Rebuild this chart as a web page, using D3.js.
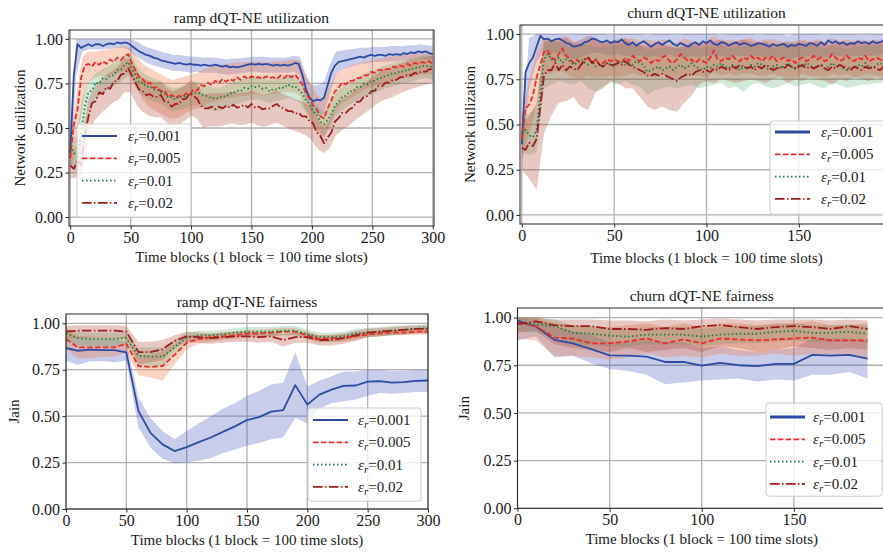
<!DOCTYPE html>
<html>
<head>
<meta charset="utf-8">
<script src="https://cdn.jsdelivr.net/npm/d3@7"></script>
<style>
  body { margin: 0; background: #fff; }
  svg { display: block; }
</style>
</head>
<body>
<svg id="fig"></svg>
<script>
// ---- data -------------------------------------------------------------
const keys = ["0.001", "0.005", "0.01", "0.02"];

// ramp utilization: lines every 3 blocks, bands every 5 blocks
const rampT = d3.range(0, 301, 3);
const rampBandT = d3.range(0, 301, 5);

const rampU001 = [0.36,0.80,0.97,0.95,0.96,0.97,0.96,0.97,0.97,0.96,
  0.97,0.975,0.97,0.98,0.975,0.98,0.975,0.96,0.945,0.93,
  0.92,0.91,0.905,0.895,0.89,0.88,0.875,0.87,0.865,0.86,
  0.865,0.86,0.855,0.86,0.855,0.855,0.85,0.855,0.85,0.85,
  0.855,0.85,0.845,0.85,0.84,0.845,0.84,0.845,0.85,0.855,
  0.86,0.855,0.86,0.855,0.86,0.855,0.85,0.855,0.85,0.855,
  0.85,0.855,0.865,0.86,0.80,0.72,0.67,0.65,0.66,0.655,
  0.67,0.74,0.81,0.85,0.87,0.875,0.88,0.885,0.89,0.895,
  0.90,0.895,0.905,0.91,0.905,0.91,0.91,0.905,0.915,0.91,
  0.915,0.91,0.92,0.915,0.925,0.92,0.93,0.925,0.93,0.92,
  0.915];
const rampU005 = [0.33,0.52,0.60,0.78,0.85,0.86,0.845,0.87,0.855,0.875,
  0.86,0.885,0.87,0.895,0.88,0.905,0.915,0.865,0.825,0.785,
  0.775,0.745,0.755,0.725,0.73,0.705,0.71,0.675,0.685,0.67,
  0.68,0.675,0.695,0.69,0.715,0.71,0.74,0.735,0.755,0.74,
  0.765,0.75,0.775,0.76,0.775,0.765,0.785,0.77,0.79,0.775,
  0.79,0.78,0.785,0.775,0.79,0.78,0.785,0.775,0.795,0.78,
  0.80,0.785,0.80,0.775,0.745,0.695,0.665,0.625,0.605,0.565,
  0.555,0.61,0.655,0.705,0.725,0.755,0.745,0.765,0.765,0.78,
  0.78,0.795,0.795,0.815,0.81,0.825,0.825,0.83,0.83,0.845,
  0.84,0.85,0.845,0.86,0.85,0.865,0.86,0.87,0.865,0.875,
  0.86];
const rampU01 = [0.40,0.36,0.34,0.46,0.62,0.70,0.71,0.755,0.75,0.78,
  0.775,0.795,0.795,0.825,0.825,0.855,0.87,0.835,0.795,0.755,
  0.755,0.73,0.735,0.715,0.715,0.70,0.695,0.67,0.675,0.66,
  0.675,0.67,0.685,0.685,0.70,0.695,0.695,0.68,0.68,0.665,
  0.67,0.665,0.68,0.675,0.695,0.695,0.71,0.705,0.725,0.72,
  0.735,0.73,0.735,0.72,0.725,0.705,0.72,0.715,0.73,0.725,
  0.745,0.73,0.735,0.715,0.695,0.655,0.635,0.595,0.575,0.535,
  0.52,0.545,0.575,0.625,0.645,0.675,0.68,0.705,0.705,0.73,
  0.73,0.75,0.745,0.765,0.765,0.78,0.78,0.795,0.795,0.81,
  0.805,0.82,0.815,0.83,0.825,0.84,0.835,0.85,0.845,0.85,
  0.84];
const rampU02 = [0.29,0.27,0.32,0.29,0.46,0.56,0.64,0.65,0.70,0.69,
  0.73,0.72,0.76,0.765,0.80,0.805,0.835,0.795,0.755,0.715,
  0.705,0.685,0.69,0.675,0.675,0.685,0.65,0.645,0.62,0.635,
  0.635,0.66,0.665,0.695,0.68,0.665,0.625,0.61,0.61,0.62,
  0.605,0.62,0.61,0.625,0.615,0.63,0.615,0.62,0.63,0.615,
  0.635,0.615,0.62,0.605,0.61,0.61,0.625,0.635,0.615,0.61,
  0.595,0.595,0.58,0.585,0.565,0.565,0.54,0.525,0.475,0.455,
  0.415,0.445,0.475,0.535,0.555,0.585,0.585,0.605,0.615,0.645,
  0.65,0.675,0.68,0.705,0.71,0.735,0.735,0.755,0.755,0.77,
  0.77,0.785,0.785,0.80,0.795,0.81,0.805,0.82,0.815,0.83,
  0.83];

const rampLo001 = [0.25,0.80,0.93,0.94,0.94,0.94,0.945,0.945,0.95,0.95,
  0.93,0.90,0.88,0.86,0.85,0.84,0.83,0.82,0.82,0.815,
  0.81,0.815,0.81,0.81,0.81,0.805,0.80,0.80,0.805,0.81,
  0.815,0.815,0.81,0.81,0.81,0.81,0.81,0.815,0.80,0.66,
  0.58,0.57,0.58,0.70,0.80,0.83,0.84,0.85,0.86,0.86,
  0.87,0.87,0.87,0.875,0.875,0.88,0.88,0.885,0.89,0.885,
  0.88];
const rampHi001 = [0.50,1.0,1.0,1.0,1.0,1.0,1.0,1.0,1.0,1.0,
  1.0,0.985,0.965,0.95,0.94,0.93,0.92,0.91,0.91,0.905,
  0.90,0.90,0.895,0.895,0.895,0.89,0.885,0.89,0.89,0.895,
  0.90,0.90,0.90,0.895,0.895,0.895,0.895,0.905,0.90,0.79,
  0.74,0.74,0.76,0.86,0.93,0.935,0.94,0.945,0.95,0.95,
  0.955,0.955,0.955,0.96,0.96,0.96,0.965,0.965,0.97,0.965,
  0.96];
const rampLo005 = [0.25,0.40,0.62,0.76,0.78,0.79,0.79,0.80,0.81,0.82,
  0.79,0.72,0.66,0.62,0.60,0.58,0.56,0.55,0.56,0.58,
  0.60,0.61,0.62,0.64,0.65,0.66,0.67,0.67,0.68,0.68,
  0.69,0.69,0.68,0.69,0.69,0.70,0.70,0.70,0.68,0.60,
  0.52,0.47,0.45,0.52,0.60,0.64,0.66,0.68,0.70,0.72,
  0.73,0.74,0.75,0.76,0.77,0.78,0.78,0.79,0.80,0.80,
  0.80];
const rampHi005 = [0.45,0.68,0.90,0.93,0.93,0.935,0.94,0.945,0.955,0.96,
  0.95,0.90,0.86,0.84,0.82,0.80,0.78,0.77,0.78,0.79,
  0.80,0.81,0.83,0.84,0.85,0.855,0.86,0.865,0.87,0.87,
  0.87,0.875,0.87,0.87,0.875,0.875,0.88,0.885,0.88,0.80,
  0.73,0.68,0.67,0.74,0.80,0.83,0.845,0.855,0.865,0.875,
  0.88,0.89,0.895,0.90,0.905,0.91,0.915,0.915,0.92,0.92,
  0.92];
const rampLo01 = [0.30,0.25,0.38,0.58,0.66,0.69,0.71,0.73,0.75,0.78,
  0.79,0.72,0.68,0.66,0.645,0.635,0.61,0.595,0.60,0.61,
  0.62,0.63,0.615,0.605,0.595,0.60,0.615,0.63,0.64,0.65,
  0.66,0.66,0.65,0.64,0.65,0.655,0.67,0.66,0.64,0.59,
  0.54,0.49,0.45,0.50,0.57,0.60,0.625,0.645,0.665,0.68,
  0.69,0.705,0.72,0.73,0.74,0.75,0.755,0.765,0.775,0.78,
  0.77];
const rampHi01 = [0.46,0.45,0.66,0.76,0.80,0.825,0.84,0.86,0.88,0.91,
  0.92,0.85,0.81,0.79,0.775,0.765,0.74,0.725,0.73,0.74,
  0.75,0.76,0.745,0.735,0.725,0.73,0.745,0.76,0.77,0.78,
  0.79,0.79,0.78,0.77,0.78,0.785,0.80,0.79,0.77,0.72,
  0.67,0.62,0.59,0.63,0.70,0.73,0.755,0.775,0.795,0.81,
  0.82,0.835,0.85,0.86,0.87,0.88,0.885,0.895,0.905,0.91,
  0.90];
const rampLo02 = [0.22,0.22,0.24,0.45,0.54,0.58,0.61,0.64,0.66,0.70,
  0.70,0.63,0.59,0.57,0.56,0.56,0.53,0.51,0.52,0.54,
  0.57,0.55,0.50,0.51,0.51,0.51,0.52,0.525,0.515,0.52,
  0.53,0.515,0.505,0.515,0.53,0.515,0.50,0.485,0.475,0.46,
  0.43,0.38,0.36,0.39,0.46,0.49,0.51,0.54,0.565,0.59,
  0.615,0.64,0.66,0.67,0.685,0.70,0.715,0.725,0.735,0.745,
  0.755];
const rampHi02 = [0.36,0.40,0.45,0.66,0.73,0.77,0.80,0.82,0.85,0.89,
  0.89,0.82,0.78,0.765,0.755,0.76,0.725,0.705,0.72,0.74,
  0.77,0.74,0.69,0.695,0.695,0.695,0.70,0.705,0.695,0.70,
  0.71,0.695,0.685,0.695,0.71,0.695,0.68,0.665,0.655,0.64,
  0.61,0.55,0.50,0.55,0.63,0.66,0.68,0.71,0.735,0.76,
  0.785,0.81,0.83,0.84,0.855,0.865,0.88,0.885,0.895,0.90,
  0.905];

// churn utilization: lines every 2 blocks, bands every 4 blocks
const churnT = d3.range(0, 200, 2);
const churnBandT = d3.range(0, 200, 4);

const churnU001 = [0.39,0.79,0.84,0.87,0.93,0.99,0.97,0.975,0.96,0.97,
  0.975,0.965,0.95,0.945,0.93,0.935,0.94,0.955,0.96,0.975,
  0.97,0.96,0.955,0.965,0.95,0.96,0.955,0.97,0.95,0.94,
  0.955,0.935,0.95,0.96,0.945,0.93,0.945,0.955,0.94,0.955,
  0.965,0.945,0.935,0.95,0.94,0.93,0.945,0.955,0.94,0.96,
  0.95,0.965,0.945,0.94,0.955,0.95,0.935,0.945,0.955,0.94,
  0.95,0.945,0.935,0.94,0.95,0.945,0.94,0.93,0.945,0.935,
  0.94,0.945,0.93,0.94,0.935,0.945,0.94,0.935,0.95,0.945,
  0.935,0.955,0.94,0.965,0.95,0.96,0.945,0.955,0.94,0.95,
  0.945,0.96,0.95,0.955,0.945,0.96,0.95,0.955,0.965,0.96];
const churnU005 = [0.42,0.59,0.61,0.66,0.76,0.83,0.90,0.91,0.87,0.86,
  0.89,0.92,0.88,0.86,0.84,0.86,0.83,0.85,0.87,0.84,
  0.86,0.83,0.84,0.86,0.85,0.86,0.85,0.84,0.87,0.85,
  0.88,0.86,0.85,0.87,0.86,0.84,0.86,0.85,0.87,0.88,
  0.85,0.84,0.86,0.89,0.87,0.85,0.86,0.84,0.86,0.85,
  0.84,0.87,0.91,0.86,0.85,0.87,0.86,0.88,0.86,0.85,
  0.87,0.86,0.88,0.86,0.87,0.85,0.87,0.86,0.88,0.85,
  0.86,0.87,0.85,0.86,0.84,0.86,0.87,0.85,0.86,0.88,
  0.86,0.87,0.85,0.86,0.89,0.87,0.85,0.86,0.88,0.86,
  0.85,0.87,0.86,0.88,0.85,0.86,0.87,0.86,0.85,0.86];
const churnU01 = [0.45,0.47,0.44,0.43,0.47,0.67,0.86,0.89,0.86,0.85,
  0.87,0.84,0.86,0.85,0.83,0.84,0.86,0.84,0.83,0.85,
  0.82,0.83,0.82,0.84,0.83,0.82,0.84,0.85,0.83,0.84,
  0.83,0.85,0.84,0.83,0.79,0.80,0.81,0.82,0.80,0.81,
  0.82,0.80,0.82,0.83,0.81,0.82,0.84,0.82,0.81,0.80,
  0.82,0.81,0.83,0.82,0.84,0.82,0.81,0.83,0.82,0.80,
  0.82,0.81,0.83,0.82,0.84,0.83,0.82,0.80,0.82,0.83,
  0.81,0.82,0.84,0.82,0.81,0.83,0.82,0.84,0.83,0.81,
  0.82,0.83,0.81,0.82,0.84,0.82,0.83,0.81,0.80,0.82,
  0.81,0.83,0.82,0.84,0.82,0.81,0.83,0.84,0.83,0.84];
const churnU02 = [0.37,0.36,0.40,0.38,0.42,0.60,0.77,0.80,0.80,0.84,
  0.80,0.83,0.80,0.82,0.81,0.80,0.83,0.86,0.87,0.84,
  0.86,0.83,0.82,0.84,0.83,0.83,0.84,0.83,0.85,0.83,
  0.82,0.81,0.80,0.79,0.77,0.77,0.78,0.77,0.78,0.77,
  0.76,0.75,0.74,0.76,0.77,0.78,0.77,0.79,0.80,0.79,
  0.80,0.79,0.81,0.80,0.82,0.81,0.80,0.82,0.81,0.83,
  0.82,0.81,0.82,0.80,0.82,0.81,0.83,0.82,0.80,0.81,
  0.82,0.81,0.83,0.82,0.81,0.82,0.83,0.81,0.82,0.81,
  0.82,0.83,0.81,0.80,0.82,0.81,0.83,0.82,0.81,0.80,
  0.82,0.81,0.80,0.82,0.81,0.82,0.81,0.80,0.82,0.81];

const churnLo001 = [0.30,0.70,0.85,0.90,0.89,0.90,0.87,0.86,0.87,0.89,
  0.90,0.89,0.88,0.89,0.88,0.88,0.88,0.87,0.88,0.87,
  0.89,0.87,0.87,0.88,0.87,0.88,0.88,0.88,0.87,0.88,
  0.88,0.87,0.88,0.87,0.87,0.87,0.86,0.87,0.87,0.88,
  0.87,0.87,0.88,0.88,0.87,0.88,0.88,0.88,0.88,0.89];
const churnHi001 = [0.50,0.98,1.0,1.0,1.0,1.0,0.995,1.0,1.0,1.0,
  1.0,1.0,0.995,1.0,1.0,1.0,1.0,0.995,1.0,1.0,
  1.0,0.995,1.0,1.0,1.0,1.0,1.0,0.995,1.0,1.0,
  1.0,1.0,0.995,1.0,1.0,1.0,0.99,1.0,1.0,1.0,
  1.0,0.995,1.0,1.0,1.0,1.0,0.995,1.0,1.0,1.0];
const churnLo005 = [0.30,0.45,0.60,0.78,0.78,0.80,0.78,0.76,0.75,0.77,
  0.76,0.76,0.77,0.76,0.77,0.78,0.77,0.77,0.76,0.78,
  0.76,0.76,0.78,0.77,0.77,0.76,0.79,0.77,0.78,0.77,
  0.78,0.78,0.77,0.77,0.78,0.77,0.76,0.76,0.78,0.77,
  0.77,0.76,0.78,0.77,0.78,0.76,0.77,0.78,0.77,0.77];
const churnHi005 = [0.55,0.75,0.90,0.98,0.97,0.98,0.99,0.96,0.95,0.97,
  0.96,0.95,0.96,0.95,0.97,0.98,0.96,0.97,0.96,0.97,
  0.96,0.95,0.98,0.96,0.95,0.96,0.99,0.96,0.97,0.96,
  0.97,0.98,0.96,0.97,0.97,0.96,0.95,0.96,0.97,0.96,
  0.97,0.96,0.98,0.96,0.97,0.96,0.97,0.96,0.97,0.96];
const churnLo01 = [0.35,0.33,0.35,0.70,0.72,0.74,0.73,0.72,0.74,0.70,
  0.68,0.71,0.73,0.72,0.74,0.72,0.71,0.66,0.69,0.70,
  0.71,0.70,0.71,0.72,0.70,0.71,0.72,0.73,0.70,0.71,
  0.68,0.72,0.73,0.71,0.70,0.71,0.73,0.71,0.72,0.73,
  0.71,0.70,0.73,0.72,0.70,0.71,0.72,0.72,0.73,0.73];
const churnHi01 = [0.55,0.56,0.60,0.95,0.96,0.95,0.94,0.93,0.95,0.94,
  0.93,0.93,0.94,0.94,0.95,0.94,0.94,0.91,0.92,0.92,
  0.93,0.93,0.92,0.94,0.92,0.93,0.93,0.94,0.92,0.93,
  0.93,0.94,0.94,0.93,0.92,0.93,0.94,0.93,0.93,0.94,
  0.93,0.92,0.94,0.93,0.92,0.93,0.93,0.94,0.94,0.94];
const churnLo02 = [0.25,0.20,0.14,0.45,0.55,0.62,0.63,0.65,0.60,0.58,
  0.68,0.70,0.74,0.73,0.70,0.70,0.65,0.60,0.58,0.60,
  0.58,0.57,0.62,0.66,0.72,0.74,0.73,0.75,0.74,0.73,
  0.74,0.75,0.74,0.73,0.75,0.76,0.73,0.75,0.74,0.76,
  0.75,0.74,0.72,0.75,0.74,0.76,0.75,0.74,0.76,0.75];
const churnHi02 = [0.50,0.55,0.62,0.96,0.97,0.96,0.98,0.95,0.97,0.99,
  0.98,0.95,0.96,0.97,0.98,0.95,0.94,0.93,0.94,0.95,
  0.93,0.92,0.94,0.95,0.94,0.95,0.96,0.97,0.95,0.96,
  0.97,0.96,0.95,0.96,0.94,0.95,0.96,0.95,0.96,0.95,
  0.96,0.95,0.94,0.96,0.95,0.96,0.95,0.96,0.95,0.95];

// ramp fairness, every 10 blocks
const fairRampT = d3.range(0, 301, 10);
const fairRamp001 = [0.867,0.852,0.858,0.856,0.856,0.843,0.528,0.41,0.348,0.312,0.333,0.36,0.385,0.415,0.445,0.479,0.495,0.524,0.532,0.667,0.562,0.616,0.643,0.663,0.665,0.686,0.688,0.68,0.683,0.69,0.692];
const fairRampLo001 = [0.80,0.775,0.795,0.795,0.79,0.80,0.44,0.33,0.27,0.245,0.25,0.26,0.275,0.30,0.32,0.34,0.355,0.375,0.385,0.49,0.46,0.54,0.57,0.58,0.59,0.61,0.625,0.62,0.625,0.63,0.63];
const fairRampHi001 = [0.93,0.92,0.915,0.915,0.915,0.90,0.60,0.49,0.42,0.375,0.42,0.46,0.50,0.54,0.57,0.61,0.635,0.67,0.68,0.845,0.66,0.69,0.715,0.74,0.74,0.75,0.75,0.745,0.745,0.75,0.75];
const fairRamp005 = [0.915,0.87,0.87,0.87,0.87,0.89,0.77,0.765,0.77,0.83,0.895,0.915,0.925,0.93,0.935,0.945,0.945,0.95,0.955,0.955,0.935,0.915,0.92,0.92,0.93,0.94,0.945,0.95,0.95,0.955,0.955];
const fairRampLo005 = [0.86,0.81,0.81,0.82,0.82,0.85,0.72,0.71,0.69,0.78,0.86,0.89,0.90,0.91,0.915,0.925,0.925,0.93,0.935,0.935,0.915,0.895,0.90,0.90,0.91,0.925,0.93,0.935,0.935,0.94,0.94];
const fairRampHi005 = [0.97,0.93,0.93,0.925,0.925,0.93,0.83,0.83,0.85,0.89,0.93,0.94,0.945,0.95,0.955,0.965,0.965,0.97,0.975,0.975,0.955,0.935,0.94,0.94,0.95,0.955,0.96,0.965,0.965,0.97,0.97];
const fairRamp01 = [0.945,0.92,0.915,0.915,0.915,0.92,0.825,0.82,0.82,0.87,0.925,0.935,0.935,0.94,0.95,0.955,0.955,0.955,0.96,0.96,0.94,0.925,0.925,0.93,0.945,0.95,0.955,0.96,0.965,0.97,0.975];
const fairRampLo01 = [0.91,0.88,0.875,0.875,0.875,0.88,0.78,0.77,0.77,0.83,0.90,0.91,0.91,0.915,0.925,0.93,0.93,0.93,0.935,0.935,0.915,0.90,0.90,0.905,0.92,0.925,0.93,0.935,0.94,0.945,0.95];
const fairRampHi01 = [0.975,0.955,0.95,0.95,0.95,0.955,0.87,0.87,0.87,0.91,0.95,0.96,0.96,0.965,0.975,0.98,0.98,0.98,0.985,0.985,0.965,0.95,0.95,0.955,0.97,0.975,0.98,0.985,0.99,0.99,0.995];
const fairRamp02 = [0.955,0.96,0.96,0.96,0.96,0.955,0.845,0.845,0.86,0.905,0.93,0.925,0.92,0.925,0.93,0.93,0.925,0.93,0.91,0.925,0.925,0.91,0.91,0.92,0.935,0.95,0.955,0.96,0.965,0.97,0.97];
const fairRampLo02 = [0.92,0.92,0.92,0.92,0.92,0.92,0.78,0.79,0.80,0.87,0.90,0.895,0.89,0.895,0.90,0.90,0.895,0.90,0.875,0.895,0.895,0.88,0.88,0.89,0.905,0.925,0.93,0.935,0.94,0.945,0.945];
const fairRampHi02 = [0.985,0.99,0.99,0.99,0.99,0.985,0.90,0.90,0.91,0.935,0.955,0.95,0.945,0.95,0.955,0.955,0.95,0.955,0.94,0.95,0.95,0.935,0.935,0.945,0.96,0.97,0.975,0.98,0.985,0.99,0.99];

// churn fairness, every 10 blocks
const fairChurnT = d3.range(0, 191, 10);
const fairChurn001 = [0.984,0.953,0.883,0.865,0.834,0.802,0.80,0.795,0.767,0.767,0.748,0.762,0.75,0.745,0.757,0.757,0.804,0.80,0.804,0.785];
const fairChurnLo001 = [0.88,0.90,0.79,0.80,0.76,0.73,0.72,0.70,0.65,0.66,0.67,0.675,0.68,0.665,0.675,0.67,0.70,0.70,0.715,0.68];
const fairChurnHi001 = [1.0,0.99,0.95,0.93,0.91,0.87,0.87,0.88,0.87,0.87,0.84,0.85,0.83,0.82,0.83,0.84,0.89,0.89,0.89,0.88];
const fairChurn005 = [0.975,0.955,0.895,0.89,0.865,0.865,0.875,0.89,0.865,0.885,0.865,0.89,0.885,0.88,0.885,0.89,0.895,0.88,0.88,0.88];
const fairChurnLo005 = [0.89,0.88,0.80,0.80,0.79,0.78,0.79,0.81,0.79,0.80,0.79,0.81,0.80,0.80,0.81,0.80,0.81,0.80,0.80,0.79];
const fairChurnHi005 = [1.0,1.0,0.97,0.96,0.95,0.95,0.96,0.97,0.95,0.97,0.95,0.97,0.97,0.96,0.97,0.97,0.98,0.96,0.96,0.97];
const fairChurn01 = [0.97,0.965,0.955,0.92,0.915,0.905,0.90,0.91,0.91,0.91,0.90,0.91,0.915,0.915,0.925,0.93,0.92,0.92,0.925,0.915];
const fairChurnLo01 = [0.93,0.92,0.90,0.86,0.855,0.85,0.85,0.86,0.86,0.86,0.85,0.86,0.865,0.865,0.875,0.88,0.87,0.87,0.875,0.865];
const fairChurnHi01 = [1.0,1.0,0.99,0.96,0.955,0.945,0.94,0.95,0.95,0.95,0.94,0.95,0.955,0.955,0.965,0.97,0.96,0.96,0.965,0.955];
const fairChurn02 = [0.965,0.98,0.96,0.955,0.955,0.94,0.94,0.935,0.945,0.94,0.955,0.96,0.95,0.94,0.95,0.955,0.95,0.94,0.955,0.94];
const fairChurnLo02 = [0.92,0.93,0.86,0.84,0.83,0.82,0.84,0.82,0.83,0.84,0.82,0.85,0.84,0.82,0.83,0.85,0.84,0.83,0.84,0.83];
const fairChurnHi02 = [1.0,1.0,0.99,0.99,0.99,0.985,0.985,0.98,0.99,0.985,0.99,0.995,0.99,0.985,0.99,0.99,0.99,0.985,0.99,0.985];

const yTicks = [0, 0.25, 0.5, 0.75, 1.0];
const rampXTicks = [0, 50, 100, 150, 200, 250, 300];
const churnXTicks = [0, 50, 100, 150];

// ---- style ------------------------------------------------------------
const FONT = "'Liberation Serif','Times New Roman',serif";
const style = {
  "0.001": { color: "#2b4ba6", dash: null, fill: "#4a5ac0", alpha: 0.3 },
  "0.005": { color: "#ee2b2b", dash: "5.5,2.4", fill: "#f07848", alpha: 0.33 },
  "0.01":  { color: "#17803f", dash: "1.5,2.5", fill: "#4aa868", alpha: 0.25 },
  "0.02":  { color: "#a11c1c", dash: "9.6,2.4,1.5,2.4", fill: "#b04a38", alpha: 0.3 }
};

const W = 883, H = 556;
const svg = d3.select("#fig").attr("width", W).attr("height", H);
svg.append("rect").attr("width", W).attr("height", H).attr("fill", "#fff");

function mk(t, v, bt, lo, hi) { return { t, v, bt, lo, hi }; }

const panels = [
  { id: 1, title: "ramp dQT-NE utilization", ylabel: "Network utilization",
    left: 69, right: 434, top: 30, bottom: 226, xDomain: [-1, 301], yDomain: [-0.05, 1.05],
    xTicks: rampXTicks, xlabY: 262, ylabX: 25,
    legend: { x: 77, y: 124, w: 114, rowY: 136, lx: 82, tx: 128, lw: 1.8 },
    series: [mk(rampT, rampU001, rampBandT, rampLo001, rampHi001),
             mk(rampT, rampU005, rampBandT, rampLo005, rampHi005),
             mk(rampT, rampU01, rampBandT, rampLo01, rampHi01),
             mk(rampT, rampU02, rampBandT, rampLo02, rampHi02)] },
  { id: 2, title: "churn dQT-NE utilization", ylabel: "Network utilization",
    left: 520, right: 893, top: 25, bottom: 224, xDomain: [-1, 201], yDomain: [-0.05, 1.05],
    xTicks: churnXTicks, xlabY: 263, ylabX: 475,
    legend: { x: 770, y: 121, w: 130, rowY: 132, lx: 775, tx: 821, lw: 3 },
    series: [mk(churnT, churnU001, churnBandT, churnLo001, churnHi001),
             mk(churnT, churnU005, churnBandT, churnLo005, churnHi005),
             mk(churnT, churnU01, churnBandT, churnLo01, churnHi01),
             mk(churnT, churnU02, churnBandT, churnLo02, churnHi02)] },
  { id: 3, title: "ramp dQT-NE fairness", ylabel: "Jain",
    left: 66, right: 428, top: 314, bottom: 509, xDomain: [0, 300], yDomain: [0, 1.05],
    xTicks: rampXTicks, xlabY: 545, ylabX: 19,
    legend: { x: 308, y: 408, w: 113, rowY: 420, lx: 313, tx: 358, lw: 1.8 },
    series: [mk(fairRampT, fairRamp001, fairRampT, fairRampLo001, fairRampHi001),
             mk(fairRampT, fairRamp005, fairRampT, fairRampLo005, fairRampHi005),
             mk(fairRampT, fairRamp01, fairRampT, fairRampLo01, fairRampHi01),
             mk(fairRampT, fairRamp02, fairRampT, fairRampLo02, fairRampHi02)] },
  { id: 4, title: "churn dQT-NE fairness", ylabel: "Jain",
    left: 517.5, right: 886, top: 308, bottom: 508.3, xDomain: [0, 200], yDomain: [0, 1.05],
    xTicks: churnXTicks, xlabY: 544, ylabX: 469,
    legend: { x: 766, y: 403, w: 116, rowY: 417, lx: 770, tx: 813, lw: 3 },
    series: [mk(fairChurnT, fairChurn001, fairChurnT, fairChurnLo001, fairChurnHi001),
             mk(fairChurnT, fairChurn005, fairChurnT, fairChurnLo005, fairChurnHi005),
             mk(fairChurnT, fairChurn01, fairChurnT, fairChurnLo01, fairChurnHi01),
             mk(fairChurnT, fairChurn02, fairChurnT, fairChurnLo02, fairChurnHi02)] }
];

panels.forEach(drawPanel);

function drawPanel(p) {
  const x = d3.scaleLinear().domain(p.xDomain).range([p.left, p.right]);
  const y = d3.scaleLinear().domain(p.yDomain).range([p.bottom, p.top]);
  const g = svg.append("g");

  svg.append("clipPath").attr("id", "clip" + p.id)
    .append("rect")
      .attr("x", p.left).attr("y", p.top)
      .attr("width", p.right - p.left).attr("height", p.bottom - p.top);

  // grid
  g.selectAll(".gx").data(p.xTicks).join("line")
    .attr("x1", d => x(d)).attr("x2", d => x(d))
    .attr("y1", p.top).attr("y2", p.bottom)
    .attr("stroke", "#b0b0b0").attr("stroke-width", 1.3);
  g.selectAll(".gy").data(yTicks).join("line")
    .attr("x1", p.left).attr("x2", p.right)
    .attr("y1", d => y(d)).attr("y2", d => y(d))
    .attr("stroke", "#b0b0b0").attr("stroke-width", 1.3);

  const plot = g.append("g").attr("clip-path", `url(#clip${p.id})`);

  // shaded bands
  p.series.forEach((s, i) => {
    const st = style[keys[i]];
    const area = d3.area()
      .x((d, j) => x(s.bt[j]))
      .y0((d, j) => y(s.lo[j]))
      .y1((d, j) => y(s.hi[j]));
    plot.append("path")
      .attr("d", area(s.bt))
      .attr("fill", st.fill)
      .attr("fill-opacity", st.alpha);
  });

  // mean lines
  p.series.forEach((s, i) => {
    const st = style[keys[i]];
    const line = d3.line()
      .x((d, j) => x(s.t[j]))
      .y((d, j) => y(s.v[j]));
    plot.append("path")
      .attr("d", line(s.t))
      .attr("fill", "none")
      .attr("stroke", st.color)
      .attr("stroke-width", 1.8)
      .attr("stroke-dasharray", st.dash)
      .attr("stroke-linejoin", "round");
  });

  // frame
  g.append("rect")
    .attr("x", p.left).attr("y", p.top)
    .attr("width", p.right - p.left).attr("height", p.bottom - p.top)
    .attr("fill", "none").attr("stroke", "#262626").attr("stroke-width", 1);

  // axes
  const xAxis = g.append("g")
    .attr("transform", `translate(0,${p.bottom})`)
    .call(d3.axisBottom(x).tickValues(p.xTicks).tickSize(3.5).tickPadding(2).tickFormat(d3.format("d")));
  const yAxis = g.append("g")
    .attr("transform", `translate(${p.left},0)`)
    .call(d3.axisLeft(y).tickValues(yTicks).tickSize(3.5).tickPadding(2.5).tickFormat(d3.format(".2f")));
  [xAxis, yAxis].forEach(a => {
    a.select(".domain").remove();
    a.selectAll("line").attr("stroke", "#262626");
    a.selectAll("text").attr("font-family", FONT).attr("font-size", 16).attr("fill", "#1a1a1a");
  });

  // title and labels
  g.append("text")
    .attr("x", (p.left + p.right) / 2).attr("y", p.top - 7.5)
    .attr("text-anchor", "middle")
    .attr("font-family", FONT).attr("font-size", 15.5).attr("fill", "#1a1a1a")
    .text(p.title);
  g.append("text")
    .attr("x", (p.left + p.right) / 2).attr("y", p.xlabY)
    .attr("text-anchor", "middle")
    .attr("font-family", FONT).attr("font-size", 15).attr("fill", "#1a1a1a")
    .text("Time blocks (1 block = 100 time slots)");
  g.append("text")
    .attr("transform", `translate(${p.ylabX},${(p.top + p.bottom) / 2}) rotate(-90)`)
    .attr("text-anchor", "middle")
    .attr("font-family", FONT).attr("font-size", 15).attr("fill", "#1a1a1a")
    .text(p.ylabel);

  // legend
  const L = p.legend;
  const rowH = 22.3;
  g.append("rect")
    .attr("x", L.x).attr("y", L.y).attr("width", L.w).attr("height", rowH * 4 + 4)
    .attr("rx", 3)
    .attr("fill", "#fff").attr("fill-opacity", 0.8)
    .attr("stroke", "#cccccc").attr("stroke-width", 1);
  keys.forEach((k, i) => {
    const st = style[k];
    const cy = L.rowY + i * rowH;
    g.append("line")
      .attr("x1", L.lx).attr("x2", L.lx + 35)
      .attr("y1", cy).attr("y2", cy)
      .attr("stroke", st.color)
      .attr("stroke-width", i === 0 ? L.lw : 1.8)
      .attr("stroke-dasharray", st.dash);
    const t = g.append("text")
      .attr("x", L.tx).attr("y", cy + 5)
      .attr("font-family", FONT).attr("font-size", 15).attr("fill", "#1a1a1a");
    t.append("tspan").attr("font-style", "italic").text("\u03b5");
    t.append("tspan").attr("font-style", "italic").attr("font-size", 11).attr("dy", 3).text("r");
    t.append("tspan").attr("dy", -3).text("=" + k);
  });
}
</script>
</body>
</html>
